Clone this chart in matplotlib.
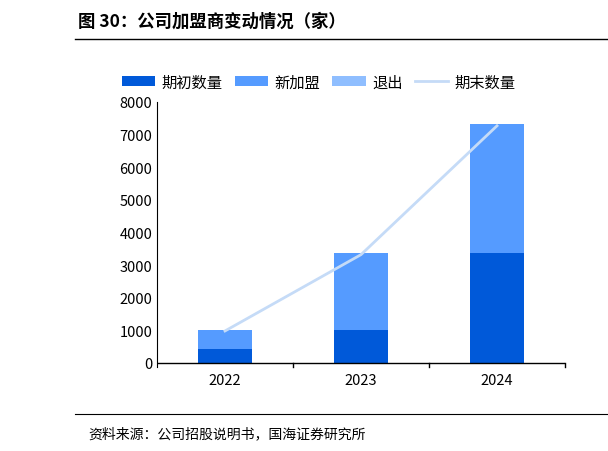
import matplotlib
matplotlib.use("Agg")
import matplotlib.pyplot as plt
from matplotlib.lines import Line2D

plt.rcParams['font.family'] = ['Noto Sans CJK SC', 'DejaVu Sans']

years = ["2022", "2023", "2024"]
opening = [430, 1010, 3375]
new_join = [580, 2365, 3955]
exits = [-10, -15, -30]
closing = [980, 3320, 7270]

fig = plt.figure(figsize=(6.08, 4.52), dpi=100)
ax = fig.add_axes([157/608, 1-368/452, (565-157)/608, (368-103)/452])
x = range(len(years))
w = 0.4
h1 = ax.bar(x, opening, w, color='#0059D9', label='期初数量')
h2 = ax.bar(x, new_join, w, bottom=opening, color='#559BFF', label='新加盟')
h3 = ax.bar(x, exits, w, color='#8FBEFF', label='退出')
h4, = ax.plot(x, closing, color='#C5DBF7', lw=2, label='期末数量')
ax.set_ylim(-125, 8000)
ax.set_xlim(-0.5, 2.5)
ax.set_yticks(range(0, 8001, 1000))
ax.set_xticks(list(x))
ax.set_xticklabels(years)
ax.tick_params(labelsize=10.5, length=0)
ax.tick_params(axis='x', pad=4)
for s in ['top', 'right', 'bottom']:
    ax.spines[s].set_visible(False)
ax.axhline(0, color='black', lw=1)
for b in [0.5, 1.5, 2.5]:
    ax.plot([b, b], [0, -125], color='black', lw=1, clip_on=False)

ax.legend([h1, h2, h3, h4], ['期初数量', '新加盟', '退出', '期末数量'],
          loc='upper left', bbox_to_anchor=(-0.12, 1.16), ncol=4, frameon=False,
          fontsize=11, handlelength=2.2, columnspacing=0.8, handletextpad=0.4)

fig.text(78/608, 1-22/452, '图 30：公司加盟商变动情况（家）', fontsize=12.5, fontweight='bold', va='center')
fig.add_artist(Line2D([75/608, 1], [1-40/452]*2, color='black', lw=1))
fig.add_artist(Line2D([75/608, 1], [1-415/452]*2, color='black', lw=0.8))
fig.text(88/608, 1-434/452, '资料来源：公司招股说明书，国海证券研究所', fontsize=10, va='center')
fig.savefig('out.png', dpi=100)
